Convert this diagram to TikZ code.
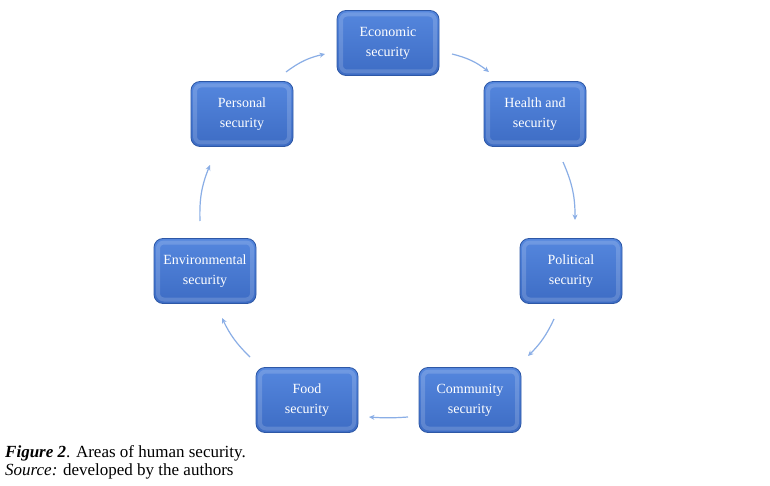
\documentclass[tikz,border=0pt]{standalone}
\usepackage{fontspec}
\setmainfont{Liberation Serif}
\usetikzlibrary{arrows.meta}
\definecolor{boxtop}{HTML}{5587DE}
\definecolor{boxbot}{HTML}{3D6CC4}
\definecolor{boxedge}{HTML}{2E58A6}
\definecolor{arrowblue}{HTML}{8AAEE6}
\tikzset{
  secbox/.style={rounded corners=9pt, minimum width=102pt, minimum height=65pt,
    text=white, align=center, font=\fontsize{14}{20}\selectfont,
    draw=boxedge, line width=0.8pt, top color=boxtop, bottom color=boxbot,
    path picture={
      \draw[white, opacity=0.16, line width=4pt, rounded corners=6pt]
        ([xshift=4pt,yshift=-4pt]path picture bounding box.north west) rectangle
        ([xshift=-4pt,yshift=4pt]path picture bounding box.south east);
    }},
  cyc/.style={draw=arrowblue, line width=1.2pt, -{Stealth[length=5.5pt,width=5pt]}},
  caption/.style={anchor=base west, inner sep=0pt, font=\fontsize{17}{18}\selectfont}
}
\begin{document}
\begin{tikzpicture}[x=1pt,y=-1pt]
\useasboundingbox[fill=white] (0,0) rectangle (770,486);
\node[secbox] (eco) at (388,43) {Economic\\security};
\node[secbox] (hea) at (535,114) {Health and\\security};
\node[secbox] (pol) at (571,271) {Political\\security};
\node[secbox] (com) at (470,400) {Community\\security};
\node[secbox] (foo) at (307,400) {Food\\security};
\node[secbox] (env) at (205,271) {Environmental\\security};
\node[secbox] (per) at (242,114) {Personal\\security};

\coordinate (a1s) at (452,54);  \coordinate (a1e) at (489,72);
\coordinate (a2s) at (563,162); \coordinate (a2e) at (575,220);
\coordinate (a3s) at (554,319); \coordinate (a3e) at (528,356);
\coordinate (a4s) at (408,417); \coordinate (a4e) at (369,417);
\coordinate (a5s) at (250,357); \coordinate (a5e) at (222,318);
\coordinate (a6s) at (200,221); \coordinate (a6e) at (210,165);
\coordinate (a7s) at (286,72);  \coordinate (a7e) at (325,54);

\draw[cyc] (a1s) to[bend left=12] (a1e);
\draw[cyc] (a2s) to[bend left=12] (a2e);
\draw[cyc] (a3s) to[bend left=10] (a3e);
\draw[cyc] (a4s) to[bend left=4] (a4e);
\draw[cyc] (a5s) to[bend left=10] (a5e);
\draw[cyc] (a6s) to[bend left=12] (a6e);
\draw[cyc] (a7s) to[bend left=12] (a7e);

\node[caption] (cap1) at (5,457) {\textbf{\textit{Figure 2}}. Areas of human security.};
\node[caption] (cap2) at (5,475) {\textit{Source:} developed by the authors};
\end{tikzpicture}
\end{document}
